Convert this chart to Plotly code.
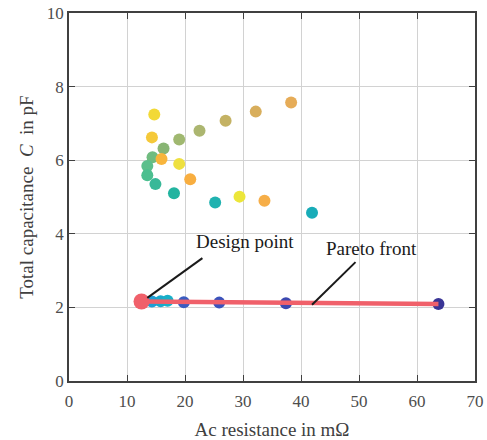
import plotly.graph_objects as go

# Candidate designs (Ac resistance in mOhm, capacitance in pF, colour)
cand_r = [14.7, 14.3, 19.0, 16.3, 14.4, 15.95, 19.0, 13.5, 13.5, 14.9,
          18.1, 20.9, 25.2, 29.4, 33.7, 41.9, 22.5, 27.0, 32.2, 38.3]
cand_c = [7.24, 6.62, 6.56, 6.32, 6.08, 6.03, 5.90, 5.84, 5.59, 5.35,
          5.10, 5.48, 4.85, 5.01, 4.90, 4.57, 6.80, 7.07, 7.32, 7.57]
cand_col = ["#f2d936", "#f5c93a", "#a0b870", "#88b574", "#70bc80", "#f8b53c",
            "#eee040", "#5cbf8c", "#4cbf90", "#38b898", "#22b4a0", "#f8ae40",
            "#20b2b0", "#ece63a", "#f6ae48", "#18acb8", "#acb670", "#c4b264",
            "#d8ae5c", "#e6ac58"]

# Pareto-front designs
par_r = [14.3, 15.8, 17.0, 19.8, 25.9, 37.4, 63.7]
par_c = [2.16, 2.17, 2.18, 2.14, 2.13, 2.11, 2.09]
par_col = ["#1e9ed6", "#1aa8cc", "#18b0c8", "#3a5cc0", "#3a52bc", "#3c48b0", "#3a3596"]

design_r = [12.5]
design_c = [2.16]

line_r = [12.5, 63.7]
line_c = [2.16, 2.09]

x_ticks = [0, 10, 20, 30, 40, 50, 60, 70]
y_ticks = [0, 2, 4, 6, 8, 10]

RED = "#f0606a"
FONT = "Liberation Serif"

fig = go.Figure()
fig.add_trace(go.Scatter(x=cand_r, y=cand_c, mode="markers",
                         marker=dict(size=12, color=cand_col, line=dict(width=0))))
fig.add_trace(go.Scatter(x=par_r, y=par_c, mode="markers",
                         marker=dict(size=12, color=par_col, line=dict(width=0))))
fig.add_trace(go.Scatter(x=line_r, y=line_c, mode="lines",
                         line=dict(color=RED, width=4.5)))
fig.add_trace(go.Scatter(x=design_r, y=design_c, mode="markers",
                         marker=dict(size=16, color=RED, line=dict(width=0))))

# leader lines
fig.add_shape(type="line", x0=23.0, y0=3.34, x1=13.5, y1=2.26,
              line=dict(color="#1a1a1a", width=2))
fig.add_shape(type="line", x0=49.4, y0=3.23, x1=41.9, y1=2.07,
              line=dict(color="#1a1a1a", width=2))
fig.add_annotation(x=30.3, y=3.79, text="Design point", showarrow=False,
                   font=dict(family=FONT, size=19, color="#1a1a1a"))
fig.add_annotation(x=52.2, y=3.59, text="Pareto front", showarrow=False,
                   font=dict(family=FONT, size=19, color="#1a1a1a"))

axis_common = dict(showline=True, linecolor="#404040", linewidth=1.5, mirror="ticks",
                   ticks="inside", ticklen=6, tickcolor="#404040", tickwidth=1,
                   showgrid=True, gridcolor="#d2d2d2", gridwidth=1, zeroline=False,
                   automargin=False, layer="below traces",
                   tickfont=dict(family=FONT, size=17, color="#4d4d4d"))

fig.update_layout(
    width=487, height=440,
    margin=dict(l=69, r=12, t=13, b=59),
    paper_bgcolor="white", plot_bgcolor="white",
    showlegend=False,
    xaxis=dict(range=[0, 70], tickvals=x_ticks, ticklabelstandoff=4,
               title=dict(text="Ac resistance in mΩ", standoff=14,
                          font=dict(family=FONT, size=19, color="#404040")),
               **axis_common),
    yaxis=dict(range=[0, 10], tickvals=y_ticks, ticklabelstandoff=0,
               title=dict(text="Total capacitance  <i>C</i>  in pF", standoff=8,
                          font=dict(family=FONT, size=19, color="#404040")),
               **axis_common),
)

fig.write_html("out.html")
